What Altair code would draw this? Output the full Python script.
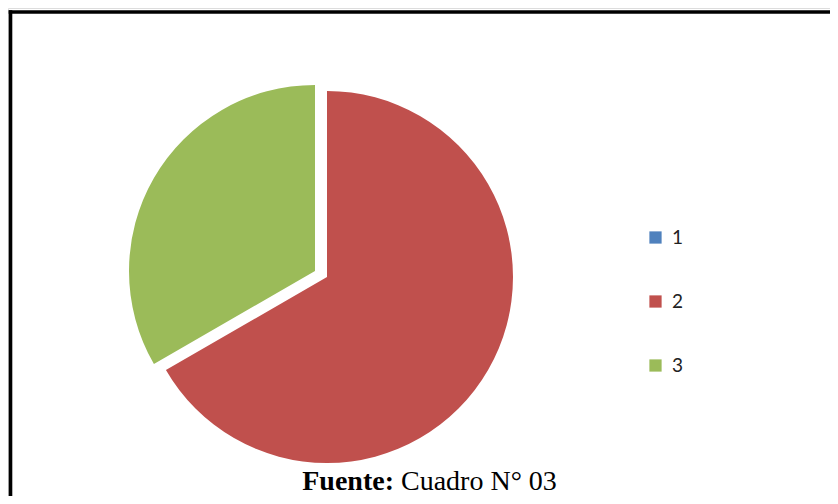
import altair as alt
import pandas as pd

categories = ["1", "2", "3"]
values = [0, 10, 5]
colors = ["#4F81BD", "#C0504D", "#9BBB59"]

caption_bold = "Fuente:"
caption_rest = "Cuadro N° 03"

df = pd.DataFrame({"cat": categories, "value": values})
total = sum(values)

W, H = 822, 488
R = 186

base = alt.Chart(df).transform_stack(
    stack="value", groupby=[], as_=["v0", "v1"], sort=[alt.SortField("cat", order="ascending")]
)

color_enc = alt.Color(
    "cat:N",
    scale=alt.Scale(domain=categories, range=colors),
    legend=alt.Legend(
        title=None,
        orient="none",
        legendX=638,
        legendY=220,
        symbolType="square",
        symbolSize=150,
        symbolStrokeWidth=0,
        labelFont="Lato",
        labelFontSize=19,
        labelColor="#222222",
        labelOffset=7,
        rowPadding=44,
        padding=0,
    ),
)

theta_scale = alt.Scale(domain=[0, total])

main = base.transform_filter(alt.datum.cat != "3").mark_arc(radius=R).encode(
    theta=alt.Theta("v0:Q", scale=theta_scale),
    theta2="v1:Q",
    color=color_enc,
    x=alt.value(319),
    y=alt.value(269),
)

exploded = base.transform_filter(alt.datum.cat == "3").mark_arc(radius=R).encode(
    theta=alt.Theta("v0:Q", scale=theta_scale),
    theta2="v1:Q",
    color=color_enc,
    x=alt.value(307),
    y=alt.value(263),
)

frame_df = pd.DataFrame({"k": [0]})
top_line = alt.Chart(frame_df).mark_rule(color="black", strokeWidth=3.6).encode(
    x=alt.value(0.7), x2=alt.value(W), y=alt.value(4)
)
left_line = alt.Chart(frame_df).mark_rule(color="black", strokeWidth=3.6).encode(
    x=alt.value(2.5), y=alt.value(2.2), y2=alt.value(H)
)

cap1 = alt.Chart(pd.DataFrame({"t": [caption_bold]})).mark_text(
    font="Liberation Serif", fontSize=28, fontWeight="bold", align="right", baseline="alphabetic", color="black"
).encode(text="t:N", x=alt.value(386), y=alt.value(482))
cap2 = alt.Chart(pd.DataFrame({"t": [caption_rest]})).mark_text(
    font="Liberation Serif", fontSize=28, align="left", baseline="alphabetic", color="black"
).encode(text="t:N", x=alt.value(393), y=alt.value(482))

chart = alt.layer(main, exploded, top_line, left_line, cap1, cap2).properties(
    width=W,
    height=H,
    autosize=alt.AutoSizeParams(type="none"),
    padding=0,
).configure_view(stroke=None).configure(background="white")

chart.save("out.html", embed_options={"renderer": "svg", "actions": False})
